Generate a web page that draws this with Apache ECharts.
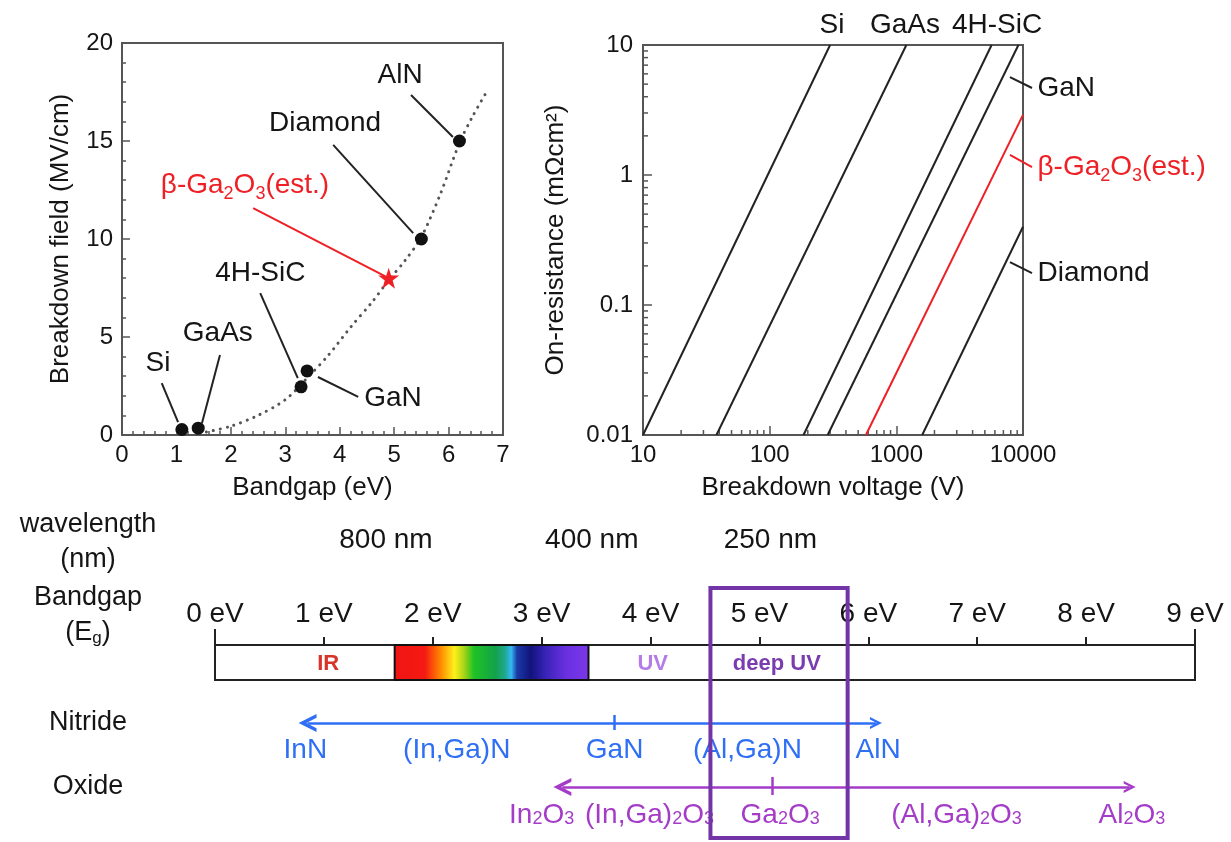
<!DOCTYPE html>
<html><head><meta charset="utf-8">
<script src="https://cdn.jsdelivr.net/npm/echarts@6/dist/echarts.min.js"></script>
<style>html,body{margin:0;padding:0;background:#fff}#c{width:1231px;height:842px}</style>
</head><body><div id="c"></div>
<script>
// ---------------- DATA ----------------
// Panel A: breakdown field vs bandgap
const matNames = ['Si', 'GaAs', '4H-SiC', 'GaN', 'Diamond', 'AlN'];
const matBandgap = [1.1, 1.4, 3.29, 3.4, 5.5, 6.2];
const matField = [0.28, 0.35, 2.46, 3.27, 10, 15];
const ga2o3Point = [4.9, 8];
const trendBandgap = [1.55, 2.0, 2.5, 3.0, 3.4, 3.8, 4.2, 4.6, 4.9, 5.2, 5.5, 5.85, 6.2, 6.45, 6.72];
const trendField = [0.15, 0.45, 1.0, 1.8, 2.9, 4.1, 5.5, 6.8, 7.9, 8.9, 10.1, 12.3, 14.9, 16.3, 17.6];
const aLabelNames = ['AlN', 'Diamond', '4H-SiC', 'GaN', 'GaAs', 'Si'];
const aLabelAt = [[5.11, 18.37], [3.73, 15.9], [2.54, 8.27], [4.98, 1.89], [1.76, 5.2], [0.66, 3.67]];
const aLeaders = [[[5.31, 17.35], [6.08, 15.2]], [[3.88, 14.8], [5.35, 10.3]], [[2.54, 7.24], [3.23, 2.9]],
                  [[4.34, 1.94], [3.6, 2.96]], [[1.8, 4.08], [1.47, 0.61]], [[0.73, 2.65], [1.03, 0.66]]];
const aGaLabelAt = [2.26, 12.76];
const aGaLeader = [[2.41, 11.58], [4.83, 8.11]];
const aXTicks = ['0', '1', '2', '3', '4', '5', '6', '7'];
const aYTicks = ['0', '5', '10', '15', '20'];

// Panel B: on-resistance vs breakdown voltage (log-log)
const ronNames = ['Si', 'GaAs', '4H-SiC', 'GaN', 'β-Ga2O3(est.)', 'Diamond'];
const ronVoltage = [[10, 300], [38, 1200], [185, 5650], [287, 9200], [575, 10000], [1600, 10000]];
const ronValue = [[0.01, 10], [0.01, 10], [0.01, 10], [0.01, 10], [0.01, 2.9], [0.01, 0.4]];
const bXTicks = {10: '10', 100: '100', 1000: '1000', 10000: '10000'};
const bYTicks = {0.01: '0.01', 0.1: '0.1', 1: '1', 10: '10'};
const bTopNames = ['Si', 'GaAs', '4H-SiC'];
const bTopAt = [[310, 14.3], [1170, 14.3], [6240, 14.3]];
const bSideNames = ['GaN', 'β-Ga2O3(est.)', 'Diamond'];
const bSideLeaders = [[[7890, 5.67], [11780, 4.67]], [[7890, 1.43], [11780, 1.15]], [[7890, 0.214], [11780, 0.176]]];

// Panel C: bandgap ruler (eV)
const wlNames = ['800 nm', '400 nm', '250 nm'];
const wlEv = [1.57, 3.46, 5.10];
const spectrumEv = [1.65, 3.43];
const regionNames = ['IR', 'UV', 'deep UV'];
const regionEv = [1.04, 4.02, 5.16];
const deepUvBoxEv = [4.55, 5.81];
const nitrideRangeEv = [0.85, 6.07];
const nitrideMarkEv = 3.67;
const nitrideNames = ['InN', '(In,Ga)N', 'GaN', '(Al,Ga)N', 'AlN'];
const nitrideEv = [0.83, 2.22, 3.67, 4.89, 6.09];
const oxideRangeEv = [3.19, 8.40];
const oxideMarkEv = 5.12;
const oxideNames = ['In2O3', '(In,Ga)2O3', 'Ga2O3', '(Al,Ga)2O3', 'Al2O3'];
const oxideEv = [3.0, 3.99, 5.19, 6.81, 8.42];

// ---------------- CHART ----------------
const FONT = '"Liberation Sans", Arial, Helvetica, sans-serif';
const INK = '#151515';
const FRAME = '#555';
const RED = '#ee2026';
const BLUE = '#2f6ff5';
const PURP = '#a53cc8';
const BOXP = '#7234a6';

// rows of panel C (inverted y axis, 0 at top of grid 3 at y=500px)
const ROW = {wl: 4.0, nitArrow: 22.3, nitLab: 25.0, oxArrow: 28.7, oxLab: 31.5, boxTop: 8.8, boxBot: 33.8, endTickTop: 12.9, axis: 14.5};

const chevron = 'path://M0,12 L8,0 L16,12 L12.6,12 L8,5.2 L3.4,12 Z';
const star = 'path://M50,2 L61,37 L98,37 L68,59 L79,95 L50,73 L21,95 L32,59 L2,37 L39,37 Z';

function subFmt(name) { return name.replace(/(\d)/g, '{s|$1}'); }

const minorLogX = [], minorLogY = [];
for (let d = 1; d < 4; d++) for (let k = 2; k <= 9; k++) minorLogX.push([k * Math.pow(10, d)]);
for (let d = -2; d < 1; d++) for (let k = 2; k <= 9; k++) minorLogY.push([+(k * Math.pow(10, d)).toPrecision(3)]);

const tickLabel = {color: INK, fontSize: 24, fontFamily: FONT};
const axisNameStyle = {color: INK, fontSize: 26, fontFamily: FONT};
const HIDDEN = {color: 'rgba(0,0,0,0)', opacity: 1};
const plainLabel = {textBorderWidth: 0, textShadowBlur: 0, opacity: 1};

const series = [];

// Panel A
series.push({type: 'line', xAxisIndex: 0, yAxisIndex: 0, smooth: 0.3, showSymbol: false, silent: true,
  data: trendBandgap.map((x, i) => [x, trendField[i]]),
  lineStyle: {color: '#555', width: 3, type: [0.1, 7], cap: 'round'}, z: 2});
series.push({type: 'lines', coordinateSystem: 'cartesian2d', xAxisIndex: 0, yAxisIndex: 0, silent: true,
  data: aLeaders.map(c => ({coords: c})), lineStyle: {color: '#222', width: 2, opacity: 1}, z: 3});
series.push({type: 'lines', coordinateSystem: 'cartesian2d', xAxisIndex: 0, yAxisIndex: 0, silent: true,
  data: [{coords: aGaLeader}], lineStyle: {color: RED, width: 2, opacity: 1}, z: 3});
series.push({type: 'scatter', xAxisIndex: 0, yAxisIndex: 0, symbolSize: 13, itemStyle: {color: '#111', opacity: 1},
  data: matBandgap.map((x, i) => ({name: matNames[i], value: [x, matField[i]]})), z: 5});
series.push({type: 'scatter', xAxisIndex: 0, yAxisIndex: 0, symbol: star, symbolSize: 21, itemStyle: {color: RED, opacity: 1},
  data: [{name: 'β-Ga2O3', value: ga2o3Point}], z: 5});
series.push({type: 'scatter', xAxisIndex: 0, yAxisIndex: 0, symbolSize: 1, itemStyle: HIDDEN, clip: false, silent: true,
  data: aLabelNames.map((n, i) => ({name: n, value: aLabelAt[i]})),
  label: Object.assign({show: true, position: 'inside', formatter: '{b}', color: INK, fontSize: 28, fontFamily: FONT}, plainLabel), z: 6});
series.push({type: 'scatter', xAxisIndex: 0, yAxisIndex: 0, symbolSize: 1, itemStyle: HIDDEN, clip: false, silent: true,
  data: [{name: 'β-Ga2O3(est.)', value: aGaLabelAt}],
  label: Object.assign({show: true, position: 'inside', formatter: 'β-Ga{s|2}O{s|3}(est.)', color: RED, fontSize: 28, fontFamily: FONT,
    rich: {s: {fontSize: 18, color: RED, fontFamily: FONT, padding: [18, 0, 0, 0]}}}, plainLabel), z: 6});

// Panel B
ronNames.forEach((n, i) => {
  series.push({type: 'line', name: n, xAxisIndex: 1, yAxisIndex: 1, showSymbol: false, silent: true,
    data: ronVoltage[i].map((v, j) => [v, ronValue[i][j]]),
    lineStyle: {color: n.startsWith('β') ? RED : '#222', width: 2}, z: 3});
});
series.push({type: 'custom', xAxisIndex: 1, yAxisIndex: 1, silent: true, clip: false, data: minorLogX,
  renderItem: (p, api) => { const c = api.coord([api.value(0), 0.01]);
    return {type: 'line', shape: {x1: c[0], y1: c[1], x2: c[0], y2: c[1] - 5}, style: {stroke: FRAME, lineWidth: 1.5}}; }});
series.push({type: 'custom', xAxisIndex: 1, yAxisIndex: 1, silent: true, clip: false, data: minorLogY.map(v => [10, v[0]]),
  renderItem: (p, api) => { const c = api.coord([10, api.value(1)]);
    return {type: 'line', shape: {x1: c[0], y1: c[1], x2: c[0] + 5, y2: c[1]}, style: {stroke: FRAME, lineWidth: 1.5}}; }});
series.push({type: 'scatter', xAxisIndex: 1, yAxisIndex: 1, symbolSize: 1, itemStyle: HIDDEN, clip: false, silent: true,
  data: bTopNames.map((n, i) => ({name: n, value: bTopAt[i]})),
  label: Object.assign({show: true, position: 'inside', formatter: '{b}', color: INK, fontSize: 28, fontFamily: FONT}, plainLabel)});
series.push({type: 'lines', coordinateSystem: 'cartesian2d', xAxisIndex: 1, yAxisIndex: 1, silent: true, clip: false,
  data: bSideLeaders.map((c, i) => ({coords: c, lineStyle: {color: i === 1 ? RED : '#222'}})),
  lineStyle: {color: '#222', width: 2, opacity: 1}});
series.push({type: 'scatter', xAxisIndex: 1, yAxisIndex: 1, symbolSize: 1, itemStyle: HIDDEN, clip: false, silent: true,
  data: bSideNames.map((n, i) => ({name: n, value: bSideLeaders[i][1]})),
  label: Object.assign({show: true, position: 'right', distance: 5, color: INK, fontSize: 28, fontFamily: FONT,
    formatter: p => p.name.startsWith('β') ? '{r|β-Ga}{rs|2}{r|O}{rs|3}{r|(est.)}' : p.name,
    rich: {r: {color: RED, fontSize: 28, fontFamily: FONT}, rs: {color: RED, fontSize: 18, fontFamily: FONT, padding: [18, 0, 0, 0]}}}, plainLabel)});

// Panel C : ruler bar (grid 2) and rows (grid 3)
series.push({type: 'line', xAxisIndex: 2, yAxisIndex: 2, data: [[0, 0]], showSymbol: false, silent: true,
  lineStyle: {opacity: 0},
  markArea: {silent: true, data: [[{coord: [spectrumEv[0], 0]}, {coord: [spectrumEv[1], 1]}]],
    itemStyle: {borderColor: '#111', borderWidth: 2, opacity: 1,
      color: {type: 'linear', x: 0, y: 0, x2: 1, y2: 0, colorStops: [
        {offset: 0, color: '#f01414'}, {offset: 0.16, color: '#f51a12'}, {offset: 0.24, color: '#ff8a00'},
        {offset: 0.31, color: '#fff01a'}, {offset: 0.36, color: '#a8d418'}, {offset: 0.41, color: '#1ec224'},
        {offset: 0.52, color: '#14a24a'}, {offset: 0.57, color: '#1fa892'}, {offset: 0.60, color: '#35baf2'},
        {offset: 0.63, color: '#1a3aa6'}, {offset: 0.70, color: '#12137c'}, {offset: 0.78, color: '#3a24ba'},
        {offset: 0.88, color: '#6a30e0'}, {offset: 1, color: '#7a38e8'}]}}}});
series.push({type: 'scatter', xAxisIndex: 2, yAxisIndex: 2, symbolSize: 1, itemStyle: HIDDEN, silent: true,
  data: regionNames.map((n, i) => ({name: n, value: [regionEv[i], 0.45],
    label: {color: ['#d8342a', '#b47ce6', '#7a3db0'][i]}})),
  label: Object.assign({show: true, position: 'inside', formatter: '{b}', fontSize: 22, fontWeight: 'bold', fontFamily: FONT}, plainLabel), z: 4});
series.push({type: 'lines', coordinateSystem: 'cartesian2d', xAxisIndex: 3, yAxisIndex: 3, silent: true, clip: false,
  data: [{coords: [[0, ROW.endTickTop], [0, ROW.axis]]}, {coords: [[9, ROW.endTickTop], [9, ROW.axis]]}],
  lineStyle: {color: '#222', width: 2, opacity: 1}});
series.push({type: 'scatter', xAxisIndex: 3, yAxisIndex: 3, symbolSize: 1, itemStyle: HIDDEN, silent: true, clip: false,
  data: wlNames.map((n, i) => ({name: n, value: [wlEv[i], ROW.wl]})),
  label: Object.assign({show: true, position: 'inside', formatter: '{b}', color: INK, fontSize: 28, fontFamily: FONT}, plainLabel)});
// nitride
series.push({type: 'lines', coordinateSystem: 'cartesian2d', xAxisIndex: 3, yAxisIndex: 3, silent: true, clip: false,
  data: [{coords: [[nitrideRangeEv[0], ROW.nitArrow], [nitrideRangeEv[1], ROW.nitArrow]]}],
  symbol: [chevron, chevron], symbolSize: [18, 12], lineStyle: {color: BLUE, width: 2.5, opacity: 1}, z: 3});
series.push({type: 'lines', coordinateSystem: 'cartesian2d', xAxisIndex: 3, yAxisIndex: 3, silent: true, clip: false,
  data: [{coords: [[nitrideMarkEv, ROW.nitArrow - 0.8], [nitrideMarkEv, ROW.nitArrow + 0.7]]}],
  lineStyle: {color: BLUE, width: 2.5, opacity: 1}, z: 3});
series.push({type: 'scatter', xAxisIndex: 3, yAxisIndex: 3, symbolSize: 1, itemStyle: HIDDEN, silent: true, clip: false,
  data: nitrideNames.map((n, i) => ({name: n, value: [nitrideEv[i], ROW.nitLab]})),
  label: Object.assign({show: true, position: 'inside', formatter: '{b}', color: BLUE, fontSize: 28, fontFamily: FONT}, plainLabel), z: 3});
// oxide
series.push({type: 'lines', coordinateSystem: 'cartesian2d', xAxisIndex: 3, yAxisIndex: 3, silent: true, clip: false,
  data: [{coords: [[oxideRangeEv[0], ROW.oxArrow], [oxideRangeEv[1], ROW.oxArrow]]}],
  symbol: [chevron, chevron], symbolSize: [18, 12], lineStyle: {color: PURP, width: 2.5, opacity: 1}, z: 3});
series.push({type: 'lines', coordinateSystem: 'cartesian2d', xAxisIndex: 3, yAxisIndex: 3, silent: true, clip: false,
  data: [{coords: [[oxideMarkEv, ROW.oxArrow - 1.0], [oxideMarkEv, ROW.oxArrow + 0.8]]}],
  lineStyle: {color: PURP, width: 2.5, opacity: 1}, z: 3});
series.push({type: 'scatter', xAxisIndex: 3, yAxisIndex: 3, symbolSize: 1, itemStyle: HIDDEN, silent: true, clip: false,
  data: oxideNames.map((n, i) => ({name: n, value: [oxideEv[i], ROW.oxLab]})),
  label: Object.assign({show: true, position: 'inside', formatter: p => subFmt(p.name), color: PURP, fontSize: 28, fontFamily: FONT,
    rich: {s: {color: PURP, fontSize: 18, fontFamily: FONT, padding: [8, 0, 0, 0]}}}, plainLabel), z: 3});
// deep-UV box
series.push({type: 'line', xAxisIndex: 3, yAxisIndex: 3, data: [[0, 0]], showSymbol: false, silent: true, lineStyle: {opacity: 0}, z: 10,
  markArea: {silent: true, z: 10, data: [[{coord: [deepUvBoxEv[0], ROW.boxTop]}, {coord: [deepUvBoxEv[1], ROW.boxBot]}]],
    itemStyle: {color: 'rgba(0,0,0,0)', borderColor: BOXP, borderWidth: 4, opacity: 1}}});

const rowTitle = (text, x, y, rich) => ({type: 'text', x: x, y: y, silent: true,
  style: {text: text, fill: INK, font: '27px ' + FONT, align: 'center', verticalAlign: 'middle', rich: rich}});

const option = {
  animation: false,
  backgroundColor: '#fff',
  textStyle: {fontFamily: FONT},
  grid: [
    {left: 122, top: 43, width: 381, height: 392, show: true, borderColor: FRAME, borderWidth: 2, backgroundColor: 'transparent'},
    {left: 643, top: 45, width: 380, height: 390, show: true, borderColor: FRAME, borderWidth: 2, backgroundColor: 'transparent'},
    {left: 215, top: 645, width: 980, height: 35, show: true, borderColor: '#222', borderWidth: 2, backgroundColor: 'transparent'},
    {left: 215, top: 500, width: 980, height: 340, show: false}
  ],
  xAxis: [
    {gridIndex: 0, type: 'value', min: 0, max: 7, interval: 1, name: 'Bandgap (eV)', nameLocation: 'middle', nameGap: 40,
      nameTextStyle: axisNameStyle, axisLine: {onZero: false, lineStyle: {color: FRAME, width: 2}},
      axisTick: {inside: true, length: 8, lineStyle: {color: FRAME, width: 1.5}},
      minorTick: {show: true, splitNumber: 5, length: 4, lineStyle: {color: FRAME, width: 1.5}},
      axisLabel: Object.assign({margin: 8, formatter: v => aXTicks[Math.round(v)]}, tickLabel), splitLine: {show: false}},
    {gridIndex: 1, type: 'log', logBase: 10, min: 10, max: 10000, name: 'Breakdown voltage (V)', nameLocation: 'middle', nameGap: 40,
      nameTextStyle: axisNameStyle, axisLine: {onZero: false, lineStyle: {color: FRAME, width: 2}},
      axisTick: {inside: true, length: 9, lineStyle: {color: FRAME, width: 1.5}},
      axisLabel: Object.assign({margin: 8, formatter: v => bXTicks[Math.round(v)] || ''}, tickLabel), splitLine: {show: false}},
    {gridIndex: 2, type: 'value', min: 0, max: 9, interval: 1, position: 'top',
      axisLine: {onZero: false, lineStyle: {color: '#222', width: 2}},
      axisTick: {inside: false, length: 8, lineStyle: {color: '#222', width: 2}},
      axisLabel: {formatter: '{value} eV', color: INK, fontSize: 28, fontFamily: FONT, margin: 17}, splitLine: {show: false}},
    {gridIndex: 3, type: 'value', min: 0, max: 9, show: false}
  ],
  yAxis: [
    {gridIndex: 0, type: 'value', min: 0, max: 20, interval: 5, name: 'Breakdown field (MV/cm)', nameLocation: 'middle', nameGap: 48,
      nameTextStyle: axisNameStyle, axisLine: {onZero: false, lineStyle: {color: FRAME, width: 2}},
      axisTick: {inside: true, length: 8, lineStyle: {color: FRAME, width: 1.5}},
      minorTick: {show: true, splitNumber: 5, length: 4, lineStyle: {color: FRAME, width: 1.5}},
      axisLabel: Object.assign({margin: 9, formatter: v => aYTicks[Math.round(v / 5)]}, tickLabel), splitLine: {show: false}},
    {gridIndex: 1, type: 'log', logBase: 10, min: 0.01, max: 10, name: 'On-resistance (mΩcm²)', nameLocation: 'middle', nameGap: 74,
      nameTextStyle: axisNameStyle, axisLine: {onZero: false, lineStyle: {color: FRAME, width: 2}},
      axisTick: {inside: true, length: 9, lineStyle: {color: FRAME, width: 1.5}},
      axisLabel: Object.assign({margin: 10, formatter: v => bYTicks[+(+v).toPrecision(3)] || ''}, tickLabel), splitLine: {show: false}},
    {gridIndex: 2, type: 'value', min: 0, max: 1, show: false},
    {gridIndex: 3, type: 'value', min: 0, max: 34, inverse: true, show: false}
  ],
  graphic: [
    rowTitle('wavelength', 88, 525),
    rowTitle('(nm)', 88, 560),
    rowTitle('Bandgap', 88, 598),
    rowTitle('(E{g|g})', 88, 633, {g: {fontSize: 17, fontFamily: FONT, fill: INK, padding: [10, 0, 0, 0]}}),
    rowTitle('Nitride', 88, 723),
    rowTitle('Oxide', 88, 787)
  ],
  series: series
};
const chart = echarts.init(document.getElementById('c'), null, {renderer: 'canvas'});
chart.setOption(option);
</script>
</body></html>
